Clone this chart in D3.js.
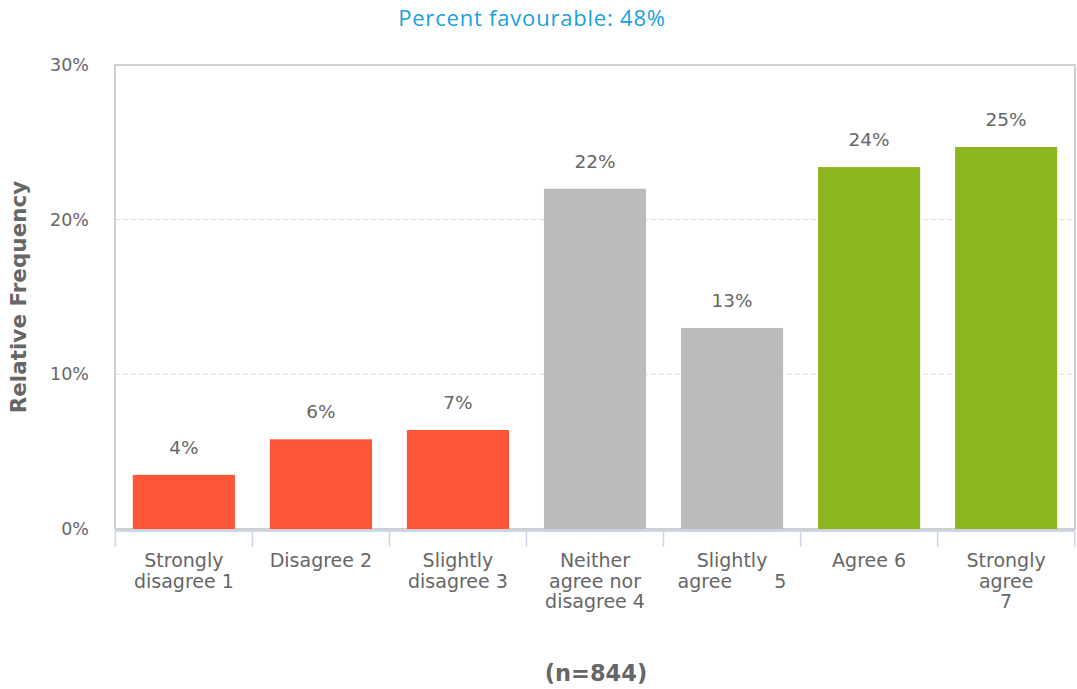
<!DOCTYPE html>
<html>
<head>
<meta charset="utf-8">
<script src="https://cdn.jsdelivr.net/npm/d3@7"></script>
<style>
  body { margin: 0; background: #fff; }
  text { font-family: "DejaVu Sans", sans-serif; }
</style>
</head>
<body>
<svg id="chart"></svg>
<script>
const svgWidth = 1077;
const svgHeight = 689;

// data
const categories = [
    ["Strongly", "disagree 1"],
    ["Disagree 2"],
    ["Slightly", "disagree 3"],
    ["Neither", "agree nor", "disagree 4"],
    ["Slightly", "agree       5"],
    ["Agree 6"],
    ["Strongly", "agree", "7"]
];
const values = [3.5, 5.8, 6.4, 22.0, 13.0, 23.4, 24.7];
const valueLabels = ["4%", "6%", "7%", "22%", "13%", "24%", "25%"];
const barColors = ["#fd5537", "#fd5537", "#fd5537", "#bbbbbb", "#bbbbbb", "#8cb61f", "#8cb61f"];
const yTicks = [0, 10, 20, 30];

const margin = { top: 65, right: 2, bottom: 160, left: 115 };
const w = svgWidth - margin.left - margin.right;
const h = svgHeight - margin.top - margin.bottom;

const svg = d3.select("#chart")
    .attr("width", svgWidth)
    .attr("height", svgHeight);

const g = svg.append("g")
    .attr("transform", `translate(${margin.left},${margin.top})`);

const x = d3.scaleBand()
    .domain(d3.range(categories.length))
    .range([0, w])
    .paddingInner(0.255)
    .paddingOuter(0.13);

const y = d3.scaleLinear()
    .domain([0, 30])
    .range([h, 0]);

// dashed grid lines
g.selectAll("line.grid")
    .data(yTicks.filter(t => t > 0 && t < 30))
    .enter().append("line")
    .attr("class", "grid")
    .attr("x1", 0).attr("x2", w)
    .attr("y1", d => y(d)).attr("y2", d => y(d))
    .attr("stroke", "#dcdcdc")
    .attr("stroke-dasharray", "5,3");

// plot border
g.append("rect")
    .attr("x", 0).attr("y", 0)
    .attr("width", w).attr("height", h)
    .attr("fill", "none")
    .attr("stroke", "#d0d0d0")
    .attr("stroke-width", 2);

// bars
g.selectAll("rect.bar")
    .data(values)
    .enter().append("rect")
    .attr("class", "bar")
    .attr("x", (d, i) => x(i))
    .attr("width", x.bandwidth())
    .attr("y", d => y(d))
    .attr("height", d => h - y(d))
    .attr("fill", (d, i) => barColors[i]);

// value labels
g.selectAll("text.val")
    .data(values)
    .enter().append("text")
    .attr("class", "val")
    .attr("x", (d, i) => x(i) + x.bandwidth() / 2)
    .attr("y", d => y(d) - 21)
    .attr("text-anchor", "middle")
    .attr("fill", "#666")
    .attr("font-size", 18.5)
    .text((d, i) => valueLabels[i]);

// y axis
const yAxis = g.append("g")
    .call(d3.axisLeft(y).tickValues(yTicks).tickSize(0).tickPadding(26).tickFormat(d => d + "%"));
yAxis.select(".domain").remove();
yAxis.selectAll("text")
    .attr("fill", "#666")
    .attr("font-size", 17.5)
    .attr("font-family", "DejaVu Sans, sans-serif");

// x axis line with tick marks at band edges
const step = x.step();
const edges = d3.range(categories.length + 1).map(i => x(0) - x.paddingInner() * step / 2 + i * step);
g.append("line")
    .attr("x1", 0).attr("x2", w)
    .attr("y1", h + 2).attr("y2", h + 2)
    .attr("stroke", "#ccd6eb")
    .attr("stroke-width", 2);
g.selectAll("line.tick")
    .data(edges)
    .enter().append("line")
    .attr("class", "tick")
    .attr("x1", d => d).attr("x2", d => d)
    .attr("y1", h + 2).attr("y2", h + 18)
    .attr("stroke", "#ccd6eb")
    .attr("stroke-width", 1.5);

// category labels
const catG = g.selectAll("text.cat")
    .data(categories)
    .enter().append("text")
    .attr("class", "cat")
    .attr("text-anchor", "middle")
    .attr("fill", "#666")
    .attr("font-size", 19)
    .attr("y", h + 38)
    .style("white-space", "pre");
catG.each(function (lines, i) {
    const t = d3.select(this);
    lines.forEach((line, j) => {
        t.append("tspan")
            .attr("x", x(i) + x.bandwidth() / 2)
            .attr("dy", j === 0 ? 0 : 20.5)
            .text(line);
    });
});

// title
svg.append("text")
    .attr("x", 532)
    .attr("y", 26)
    .attr("text-anchor", "middle")
    .attr("fill", "#1ba1dc")
    .attr("font-size", 22)
    .attr("letter-spacing", 0.8)
    .style("font-family", "Open Sans, sans-serif")
    .text("Percent favourable: 48%");

// y axis title
svg.append("text")
    .attr("transform", `translate(26,${margin.top + h / 2}) rotate(-90)`)
    .attr("text-anchor", "middle")
    .attr("fill", "#666")
    .attr("font-size", 21.5)
    .attr("font-weight", "bold")
    .text("Relative Frequency");

// n label
svg.append("text")
    .attr("x", 596)
    .attr("y", 681)
    .attr("text-anchor", "middle")
    .attr("fill", "#666")
    .attr("font-size", 22.5)
    .attr("font-weight", "bold")
    .text("(n=844)");
</script>
</body>
</html>
